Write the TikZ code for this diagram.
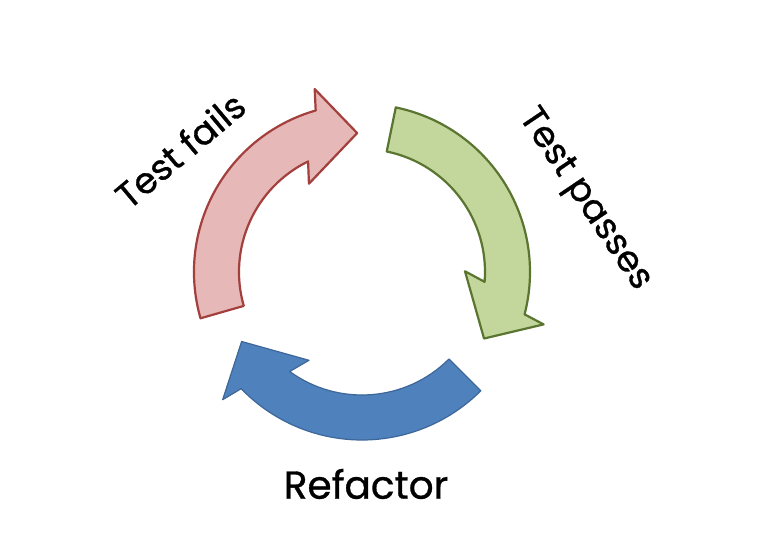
\documentclass[tikz,border=0pt]{standalone}
\usepackage{fontspec}
\newfontfamily\handfont{Poppins}[FakeBold=0.8]
\definecolor{redfill}{HTML}{E6B9B8}
\definecolor{redline}{HTML}{A33F3C}
\definecolor{greenfill}{HTML}{C3D69B}
\definecolor{greenline}{HTML}{5A7530}
\definecolor{bluefill}{HTML}{4F81BD}
\definecolor{blueline}{HTML}{3D6799}
\tikzset{
  redarrow/.style={fill=redfill,draw=redline,line width=2.2pt,line join=round},
  greenarrow/.style={fill=greenfill,draw=greenline,line width=2.2pt,line join=round},
  bluearrow/.style={fill=bluefill,draw=blueline,line width=1.2pt,line join=round},
  label/.style={font=\handfont\fontsize{36}{40}\selectfont,text=black,inner sep=0pt}
}
% #1 style, #2 tip angle, #3 tail offset
\newcommand{\cyclearrow}[3]{%
  \path[#1] ({#2+#3}:168) arc[start angle={#2+#3}, end angle={#2+14}, radius=168pt]
    -- ({#2+12.5}:189) -- (#2:139) -- ({#2+29}:103) -- ({#2+24}:123)
    arc[start angle={#2+24}, end angle={#2+#3}, radius=123pt] -- cycle;}
\begin{document}
\begin{tikzpicture}[x=1pt,y=1pt]
\useasboundingbox[fill=white] (0,0) rectangle (774,553);
\begin{scope}[shift={(362,281)}]
  \cyclearrow{redarrow}{92}{104}
  \cyclearrow{greenarrow}{-28.6}{107}
  \cyclearrow{bluearrow}{210}{105}
\end{scope}
\node[label,rotate=40] (fails) at (180,403) {Test fails};
\node[label,rotate=-56] (passes) at (584,353) {Test passes};
\node[label,font=\handfont\fontsize{39}{42}\selectfont] (refactor) at (366,69) {Refactor};
\end{tikzpicture}
\end{document}
